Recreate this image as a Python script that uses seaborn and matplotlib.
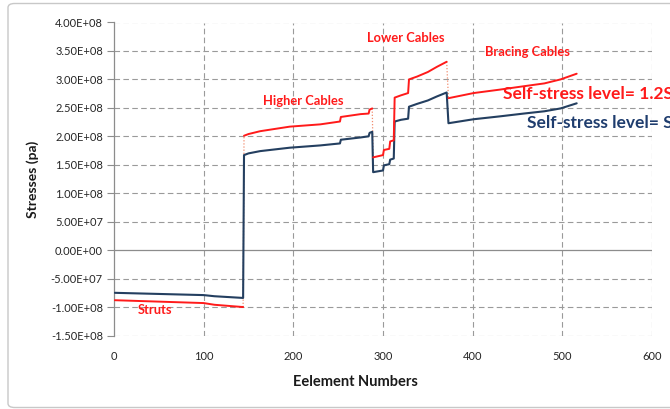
import matplotlib
matplotlib.use("Agg")
import matplotlib.pyplot as plt
from matplotlib.patches import FancyBboxPatch
from matplotlib.ticker import FuncFormatter
import seaborn as sns
import pandas as pd

# Element numbers and member stresses (Pa) for each member group
struts_x = [1, 100, 112, 144]
struts_s = [-7.5e7, -7.9e7, -8.1e7, -8.4e7]
struts_12s = [-8.8e7, -9.3e7, -9.6e7, -1.0e8]

higher_x = [145, 150, 163, 196, 230, 252, 253, 275, 284, 285, 288]
higher_s = [1.67e8, 1.70e8, 1.74e8, 1.80e8, 1.84e8, 1.875e8, 1.94e8, 1.98e8, 2.00e8, 2.06e8, 2.08e8]
higher_12s = [2.01e8, 2.04e8, 2.09e8, 2.17e8, 2.21e8, 2.26e8, 2.34e8, 2.39e8, 2.40e8, 2.47e8, 2.49e8]

lower_x = [289, 300, 301, 307, 308, 312, 313, 320, 328, 329, 338, 350, 360, 371]
lower_s = [1.37e8, 1.40e8, 1.49e8, 1.51e8, 1.59e8, 1.61e8, 2.26e8, 2.29e8, 2.31e8, 2.52e8, 2.57e8, 2.63e8, 2.70e8, 2.77e8]
lower_12s = [1.63e8, 1.67e8, 1.76e8, 1.78e8, 1.91e8, 1.93e8, 2.68e8, 2.72e8, 2.76e8, 3.00e8, 3.05e8, 3.13e8, 3.22e8, 3.31e8]

bracing_x = [373, 401, 430, 457, 480, 498, 516]
bracing_s = [2.23e8, 2.30e8, 2.35e8, 2.40e8, 2.44e8, 2.49e8, 2.58e8]
bracing_12s = [2.67e8, 2.76e8, 2.82e8, 2.88e8, 2.93e8, 3.00e8, 3.10e8]

group_names = ["Struts", "Higher Cables", "Lower Cables", "Bracing Cables"]
x_ticks = [0, 100, 200, 300, 400, 500, 600]
y_ticks = [-1.5e8, -1.0e8, -5.0e7, 0.0, 5.0e7, 1.0e8, 1.5e8, 2.0e8, 2.5e8, 3.0e8, 3.5e8, 4.0e8]

RED = "#FF1A1A"
NAVY = "#243F60"
NAVY_TEXT = "#1F3D6E"
GRID = "#9A9A9A"

sns.set_theme(style="white")
plt.rcParams["font.family"] = ["Lato", "DejaVu Sans"]

groups_x = [struts_x, higher_x, lower_x, bracing_x]
groups_s = [struts_s, higher_s, lower_s, bracing_s]
groups_12s = [struts_12s, higher_12s, lower_12s, bracing_12s]

frames = []
for name, gx, gs, g12 in zip(group_names, groups_x, groups_s, groups_12s):
    for xv, sv, rv in zip(gx, gs, g12):
        frames.append({"group": name, "element": xv, "S": sv, "1.2S": rv})
df = pd.DataFrame(frames)

fig = plt.figure(figsize=(6.70, 4.09), dpi=100)
fig.patch.set_facecolor("white")

# chart-area frame
frame = FancyBboxPatch((8 / 670, 1.5 / 409), 700 / 670, 404 / 409,
                       boxstyle="round,pad=0,rounding_size=0.01",
                       transform=fig.transFigure, fill=False,
                       edgecolor="#C8C8C8", linewidth=1.0, clip_on=False)
fig.add_artist(frame)

ax = fig.add_axes([114 / 670, 1 - 335.5 / 409, (652 - 114) / 670, (335.5 - 22.5) / 409])
ax.set_facecolor("white")

# dashed gridlines
for yv in y_ticks:
    if yv == 0:
        continue
    ax.axhline(yv, color=GRID, lw=0.8, ls=(0, (5, 3)), zorder=1)
for xv in x_ticks[1:]:
    ax.axvline(xv, color=GRID, lw=0.8, ls=(0, (5, 3)), zorder=1)
ax.axhline(0, color="#8C8C8C", lw=0.9, zorder=1.5)

# self-stress level S: one continuous line
sns.lineplot(data=df, x="element", y="S", estimator=None, sort=False,
             color=NAVY, lw=1.5, ax=ax, zorder=3)

# self-stress level 1.2S: solid per group, dotted link between groups
for name in group_names:
    sub = df[df["group"] == name]
    sns.lineplot(data=sub, x="element", y="1.2S", estimator=None, sort=False,
                 color=RED, lw=1.4, ax=ax, zorder=4)
for a, b in zip(group_names[:-1], group_names[1:]):
    end = df[df["group"] == a].iloc[-1]
    start = df[df["group"] == b].iloc[0]
    ax.plot([end["element"], start["element"]], [end["1.2S"], start["1.2S"]],
            color="#F28C6E", lw=0.9, ls=(0, (1, 1.5)), zorder=2)

ax.set_xlim(0, 600)
ax.set_ylim(-1.5e8, 4.0e8)
ax.set_xticks(x_ticks)
ax.set_yticks(y_ticks)
ax.yaxis.set_major_formatter(FuncFormatter(lambda v, p: f"{v:.2E}"))
ax.tick_params(axis="y", which="major", direction="out", length=5, width=0.8,
               color="#8C8C8C", labelsize=8, labelcolor="#262626", pad=3, left=True)
ax.tick_params(axis="x", length=0, labelsize=8, labelcolor="#262626", pad=11)

for side in ["top", "right", "bottom"]:
    ax.spines[side].set_visible(False)
ax.spines["left"].set_color("#8C8C8C")
ax.spines["left"].set_linewidth(0.9)

ax.set_xlabel("Eelement Numbers", fontsize=10.5, fontweight="bold", color="#1A1A1A")
ax.xaxis.set_label_coords((355 - 114) / (652 - 114), -0.125)
ax.set_ylabel("Stresses (pa)", fontsize=10, fontweight="bold", color="#1A1A1A")
ax.yaxis.set_label_coords(-0.14, 0.5)

# group annotations
ax.text(46, -1.055e8, "Struts", color=RED, fontsize=9.3, fontweight="bold", ha="center", va="center")
ax.text(211, 2.62e8, "Higher Cables", color=RED, fontsize=9.3, fontweight="bold", ha="center", va="center")
ax.text(325, 3.72e8, "Lower Cables", color=RED, fontsize=9.3, fontweight="bold", ha="center", va="center")
ax.text(461, 3.49e8, "Bracing Cables", color=RED, fontsize=9.3, fontweight="bold", ha="center", va="center")

# series labels
ax.text(434, 2.75e8, "Self-stress level= 1.2S", color=RED, fontsize=12.5,
        fontweight="bold", ha="left", va="center", clip_on=False)
ax.text(461, 2.23e8, "Self-stress level= S", color=NAVY_TEXT, fontsize=12.5,
        fontweight="bold", ha="left", va="center", clip_on=False)

fig.savefig("out.png", dpi=100, facecolor="white")
